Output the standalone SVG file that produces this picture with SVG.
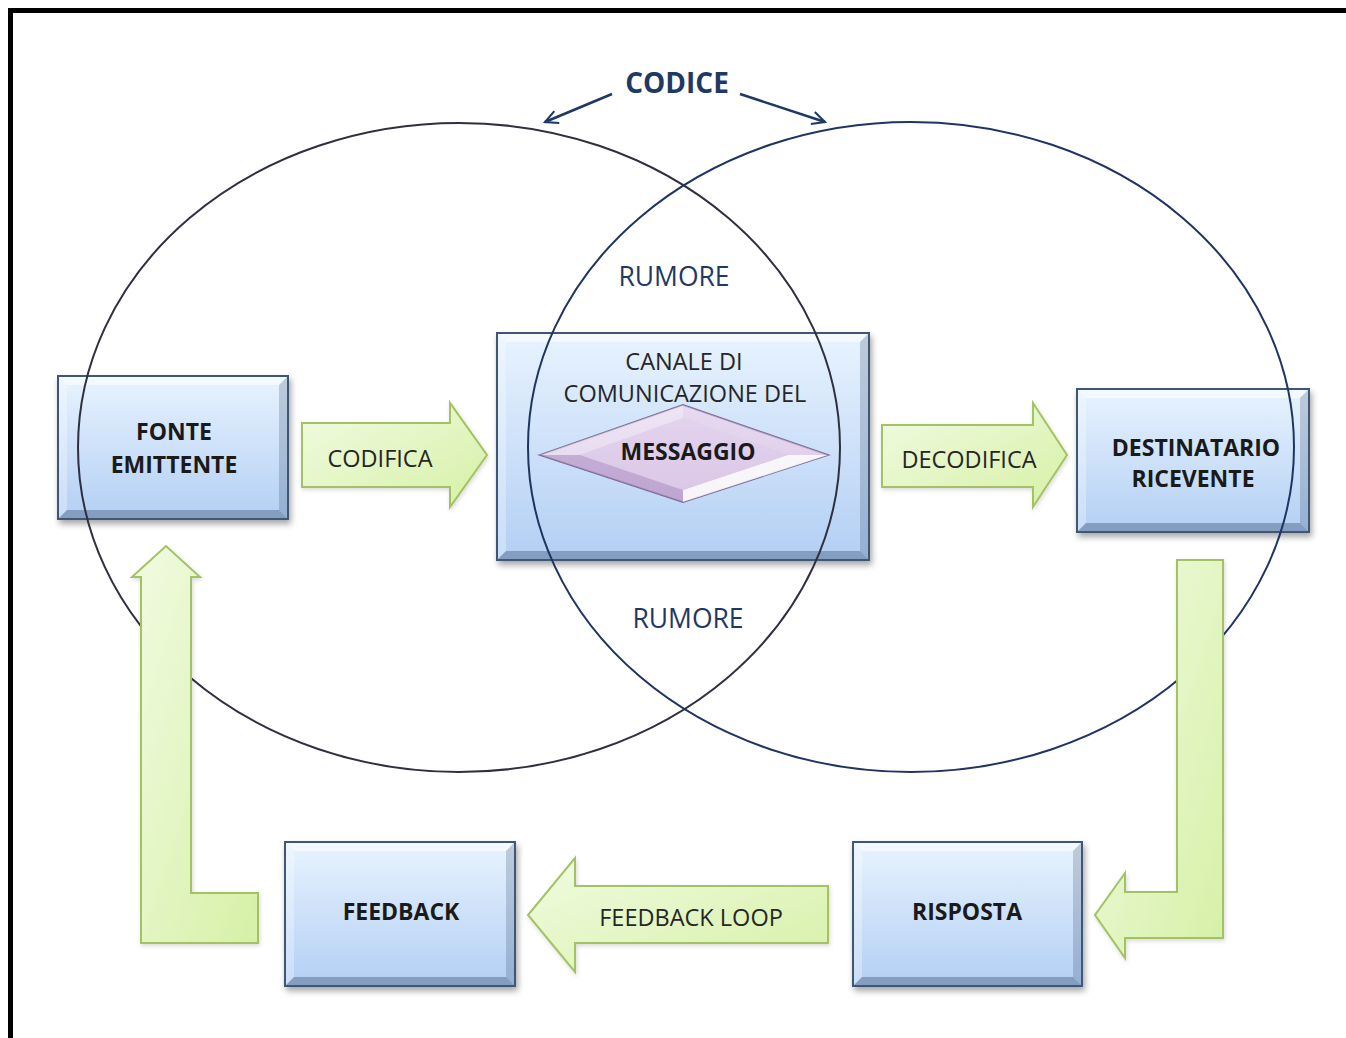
<svg xmlns="http://www.w3.org/2000/svg" width="1346" height="1038" viewBox="0 0 1346 1038">
  <defs>
    <linearGradient id="boxFill" x1="0" y1="0" x2="0" y2="1">
      <stop offset="0" stop-color="#e8f3fe"/>
      <stop offset="1" stop-color="#b3cff4"/>
    </linearGradient>
    <linearGradient id="arrowFill" x1="0" y1="0" x2="1" y2="1">
      <stop offset="0" stop-color="#f1fbe2"/>
      <stop offset="1" stop-color="#d6f0a6"/>
    </linearGradient>
    <linearGradient id="gemFill" x1="0" y1="0" x2="0" y2="1">
      <stop offset="0" stop-color="#e6d8f0"/>
      <stop offset="1" stop-color="#cbb5dc"/>
    </linearGradient>
    <filter id="shadow" x="-10%" y="-10%" width="125%" height="130%">
      <feDropShadow dx="2" dy="4" stdDeviation="3" flood-color="#000" flood-opacity="0.35"/>
    </filter>
    <filter id="softShadow" x="-10%" y="-10%" width="125%" height="130%">
      <feDropShadow dx="1" dy="2" stdDeviation="2" flood-color="#000" flood-opacity="0.15"/>
    </filter>
    <marker id="openHead" viewBox="0 0 20 20" refX="18" refY="10" markerWidth="16" markerHeight="16" markerUnits="userSpaceOnUse" orient="auto">
      <path d="M2,2 L18,10 L2,18" fill="none" stroke="#1f3864" stroke-width="2.6" stroke-linejoin="miter"/>
    </marker>
  </defs>
  <style>
    .box { fill: url(#boxFill); stroke: #3f5675; stroke-width: 2; filter: url(#shadow); }
    .hi { fill: #ffffff; fill-opacity: 0.55; }
    .hi2 { fill: #ffffff; fill-opacity: 0.3; }
    .lo { fill: #2a3f5f; fill-opacity: 0.22; }
    .lo2 { fill: #2a3f5f; fill-opacity: 0.35; }
    .arrow { fill: url(#arrowFill); stroke: #a3c263; stroke-width: 2; stroke-linejoin: miter; filter: url(#softShadow); }
    .ring { fill: none; stroke-width: 2; }
    .t { font-family: "Open Sans", "Liberation Sans", sans-serif; text-anchor: middle; }
    .bold { font-weight: bold; font-size: 23px; fill: #1a1a1a; }
    .lbl { font-size: 23.5px; fill: #262626; }
    .navy { fill: #1f3864; }
  </style>

  <rect x="0" y="0" width="1346" height="1038" fill="#ffffff"/>
  <!-- frame -->
  <path d="M10.5,1038 V10.5 H1346" fill="none" stroke="#000" stroke-width="5"/>

  <!-- boxes -->
  <g id="fonte">
    <rect class="box" x="58" y="376" width="230" height="143"/>
    <polygon class="hi" points="59,377 287,377 279,385 67,385"/>
    <polygon class="hi2" points="59,377 67,385 67,510 59,518"/>
    <polygon class="lo" points="287,377 287,518 279,510 279,385"/>
    <polygon class="lo2" points="59,518 287,518 279,510 67,510"/>
  </g>
  <g id="canale">
    <rect class="box" x="497" y="333" width="372" height="227"/>
    <polygon class="hi" points="498,334 868,334 860,342 506,342"/>
    <polygon class="hi2" points="498,334 506,342 506,551 498,559"/>
    <polygon class="lo" points="868,334 868,559 860,551 860,342"/>
    <polygon class="lo2" points="498,559 868,559 860,551 506,551"/>
  </g>
  <g id="destinatario">
    <rect class="box" x="1077" y="389" width="232" height="143"/>
    <polygon class="hi" points="1078,390 1308,390 1300,398 1086,398"/>
    <polygon class="hi2" points="1078,390 1086,398 1086,523 1078,531"/>
    <polygon class="lo" points="1308,390 1308,531 1300,523 1300,398"/>
    <polygon class="lo2" points="1078,531 1308,531 1300,523 1086,523"/>
  </g>
  <g id="feedback">
    <rect class="box" x="285" y="842" width="230" height="144"/>
    <polygon class="hi" points="286,843 514,843 506,851 294,851"/>
    <polygon class="hi2" points="286,843 294,851 294,977 286,985"/>
    <polygon class="lo" points="514,843 514,985 506,977 506,851"/>
    <polygon class="lo2" points="286,985 514,985 506,977 294,977"/>
  </g>
  <g id="risposta">
    <rect class="box" x="853" y="842" width="229" height="144"/>
    <polygon class="hi" points="854,843 1081,843 1073,851 862,851"/>
    <polygon class="hi2" points="854,843 862,851 862,977 854,985"/>
    <polygon class="lo" points="1081,843 1081,985 1073,977 1073,851"/>
    <polygon class="lo2" points="854,985 1081,985 1073,977 862,977"/>
  </g>

  <!-- the two overlapping code circles -->
  <g id="circles">
    <ellipse class="ring" cx="459" cy="447.5" rx="381" ry="324.5" stroke="#2f2f3f"/>
    <ellipse class="ring" cx="911" cy="447" rx="383" ry="325" stroke="#1f3462"/>
  </g>

  <!-- message gem -->
  <g id="messaggio">
    <polygon points="540,455 683,405 828,455 683,502" fill="url(#gemFill)" stroke="#7d6a93" stroke-width="1.8"/>
    <polygon points="540,455 683,405 683,418 580,455" fill="#f3ecf8" fill-opacity="0.6"/>
    <polygon points="683,405 828,455 788,455 683,418" fill="#e9dcf2" fill-opacity="0.5"/>
    <polygon points="540,455 580,455 683,490 683,502" fill="#b59bc9" fill-opacity="0.6"/>
    <polygon points="828,455 683,502 683,490 788,455" fill="#ffffff" fill-opacity="0.85"/>
    <polygon points="580,455 683,418 788,455 683,490" fill="#e2d2ec" fill-opacity="0.6"/>
  </g>

  <!-- connectors -->
  <g id="connectors">
    <path class="arrow" d="M302,423 H450 V403 L487,455 L450,507 V487 H302 Z"/>
    <path class="arrow" d="M882,425 H1033 V403 L1067,455 L1033,507 V487 H882 Z"/>
    <path class="arrow" d="M828,886 H575 V858 L528,915 L575,972 V943 H828 Z"/>
    <path class="arrow" d="M141,943 V577 H132 L166,546 L200,577 H191 V893 H258 V943 Z"/>
    <path class="arrow" d="M1177,560 H1223 V938 H1125 V958 L1095,915 L1125,873 V892 H1177 Z"/>
    <path d="M612,94 L545,122" fill="none" stroke="#1f3864" stroke-width="2.6" marker-end="url(#openHead)"/>
    <path d="M740,94 L825,122" fill="none" stroke="#1f3864" stroke-width="2.6" marker-end="url(#openHead)"/>
  </g>

  <!-- labels -->
  <g id="labels">
    <text class="t navy" x="677" y="93" font-size="28" font-weight="bold">CODICE</text>
    <text class="t navy" x="674" y="286" font-size="26.5">RUMORE</text>
    <text class="t navy" x="688" y="628" font-size="26.5">RUMORE</text>
    <text class="t bold" x="174" y="440">FONTE</text>
    <text class="t bold" x="174" y="473">EMITTENTE</text>
    <text class="t lbl" x="380" y="467">CODIFICA</text>
    <text class="t lbl" x="684" y="370">CANALE DI</text>
    <text class="t lbl" x="685" y="402">COMUNICAZIONE DEL</text>
    <text class="t bold" x="688" y="460" font-size="24">MESSAGGIO</text>
    <text class="t lbl" x="969" y="468">DECODIFICA</text>
    <text class="t bold" x="1196" y="456">DESTINATARIO</text>
    <text class="t bold" x="1193" y="487">RICEVENTE</text>
    <text class="t bold" x="401" y="920">FEEDBACK</text>
    <text class="t lbl" x="691" y="926">FEEDBACK LOOP</text>
    <text class="t bold" x="967" y="920">RISPOSTA</text>
  </g>
</svg>
